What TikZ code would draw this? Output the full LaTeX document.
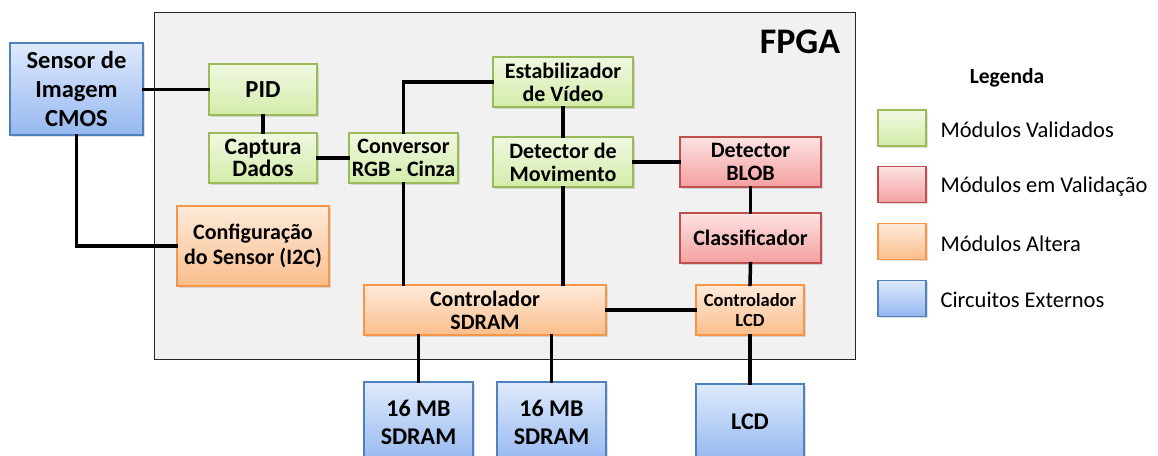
\documentclass[tikz,border=0pt]{standalone}
\usepackage{fontspec}
\setmainfont{Carlito}
\usepackage{tikz}
\usetikzlibrary{shadows}
\definecolor{vdborda}{RGB}{155,187,89}
\definecolor{vdtopo}{RGB}{240,248,225}
\definecolor{vdbase}{RGB}{212,236,170}
\definecolor{vmborda}{RGB}{192,80,77}
\definecolor{vmtopo}{RGB}{252,226,226}
\definecolor{vmbase}{RGB}{244,160,160}
\definecolor{alborda}{RGB}{247,150,70}
\definecolor{altopo}{RGB}{254,234,218}
\definecolor{albase}{RGB}{250,190,140}
\definecolor{exborda}{RGB}{79,129,189}
\definecolor{extopo}{RGB}{222,234,252}
\definecolor{exbase}{RGB}{150,184,240}
\definecolor{fundo}{RGB}{241,241,241}

\begin{document}
\begin{tikzpicture}[x=1pt,y=-1pt,
  bloco/.style={draw,line width=1.2pt,align=center,inner sep=0pt,font=\bfseries\fontsize{22}{23}\selectfont,
    drop shadow={opacity=0.25,shadow xshift=1.5pt,shadow yshift=-1.5pt}},
  validado/.style={bloco,draw=vdborda,top color=vdtopo,bottom color=vdbase},
  emvalid/.style={bloco,draw=vmborda,top color=vmtopo,bottom color=vmbase},
  altera/.style={bloco,draw=alborda,top color=altopo,bottom color=albase},
  externo/.style={bloco,draw=exborda,top color=extopo,bottom color=exbase},
  fio/.style={line width=3.5pt,line cap=rect}]
  \useasboundingbox (0,0) rectangle (1158,455);
  % placa FPGA
  \draw[fill=fundo,line width=0.9pt,draw=black!85] (154,12) rectangle (855,359);
  \node[font=\bfseries\fontsize{36}{38}\selectfont] (fpga) at (800,42) {FPGA};
  % blocos
  \node[externo,minimum width=133pt,minimum height=92pt,font=\bfseries\fontsize{24.5}{29}\selectfont] (sensor) at (76.5,89) {Sensor de\\Imagem\\CMOS};
  \node[validado,minimum width=108pt,minimum height=51pt,font=\bfseries\fontsize{24.5}{25}\selectfont] (pid) at (263,89.5) {PID};
  \node[validado,minimum width=108pt,minimum height=50pt,font=\bfseries\fontsize{23.5}{22.5}\selectfont] (captura) at (263,158) {Captura\\Dados};
  \node[validado,minimum width=109pt,minimum height=50pt] (conversor) at (403.5,158) {Conversor\\RGB - Cinza};
  \node[altera,minimum width=152pt,minimum height=80pt,font=\bfseries\fontsize{22}{25}\selectfont] (config) at (253,246) {Configuração\\do Sensor (I2C)};
  \node[validado,minimum width=140pt,minimum height=50pt] (estab) at (563,82) {Estabilizador\\de Vídeo};
  \node[validado,minimum width=140pt,minimum height=50pt] (movim) at (563,162) {Detector de\\Movimento};
  \node[emvalid,minimum width=141pt,minimum height=50pt] (blob) at (750.5,162) {Detector\\BLOB};
  \node[emvalid,minimum width=141pt,minimum height=50pt] (classif) at (750.5,238) {Classificador};
  \node[altera,minimum width=242pt,minimum height=50pt] (ctrlsd) at (485,310) {Controlador\\SDRAM};
  \node[altera,minimum width=108pt,minimum height=50pt,font=\bfseries\fontsize{18.5}{20}\selectfont] (ctrllcd) at (750,310) {Controlador\\LCD};
  \node[externo,minimum width=109pt,minimum height=80pt,font=\bfseries\fontsize{24}{28}\selectfont] (sdram1) at (418.5,422) {16 MB\\SDRAM};
  \node[externo,minimum width=109pt,minimum height=80pt,font=\bfseries\fontsize{24}{28}\selectfont] (sdram2) at (551.5,422) {16 MB\\SDRAM};
  \node[externo,minimum width=108pt,minimum height=76pt,font=\bfseries\fontsize{24}{25}\selectfont] (lcd) at (750,422) {LCD};
  % ligacoes
  \draw[fio] (sensor.east |- pid.west) -- (pid.west);
  \draw[fio] (sensor.south) |- (config.west);
  \draw[fio] (pid.south) -- (captura.north);
  \draw[fio] (captura.east) -- (conversor.west);
  \draw[fio] (conversor.north) |- (estab.west);
  \draw[fio] (conversor.south) -- (conversor.south |- ctrlsd.north);
  \draw[fio] (estab.south) -- (movim.north);
  \draw[fio] (movim.south) -- (movim.south |- ctrlsd.north);
  \draw[fio] (movim.east) -- (blob.west);
  \draw[fio] (blob.south) -- (classif.north);
  \draw[fio] (classif.south) -- (ctrllcd.north);
  \draw[fio] (ctrlsd.east) -- (ctrllcd.west);
  \draw[fio] (sdram1.north |- ctrlsd.south) -- (sdram1.north);
  \draw[fio] (sdram2.north |- ctrlsd.south) -- (sdram2.north);
  \draw[fio] (ctrllcd.south) -- (lcd.north);
  % legenda
  \node[font=\bfseries\fontsize{21.5}{23}\selectfont] (legenda) at (1007,78) {Legenda};
  \foreach \estilo/\texto [count=\i] in {validado/Módulos Validados,emvalid/Módulos em Validação,altera/Módulos Altera,externo/Circuitos Externos}
  {
    \node[\estilo,minimum width=48pt,minimum height=36pt] (leg\i) at (902,128+56.7*\i-56.7) {};
    \node[anchor=west,font=\fontsize{22.5}{24}\selectfont] (txt\i) at (937,130+56.7*\i-56.7) {\texto};
  }
\end{tikzpicture}
\end{document}
